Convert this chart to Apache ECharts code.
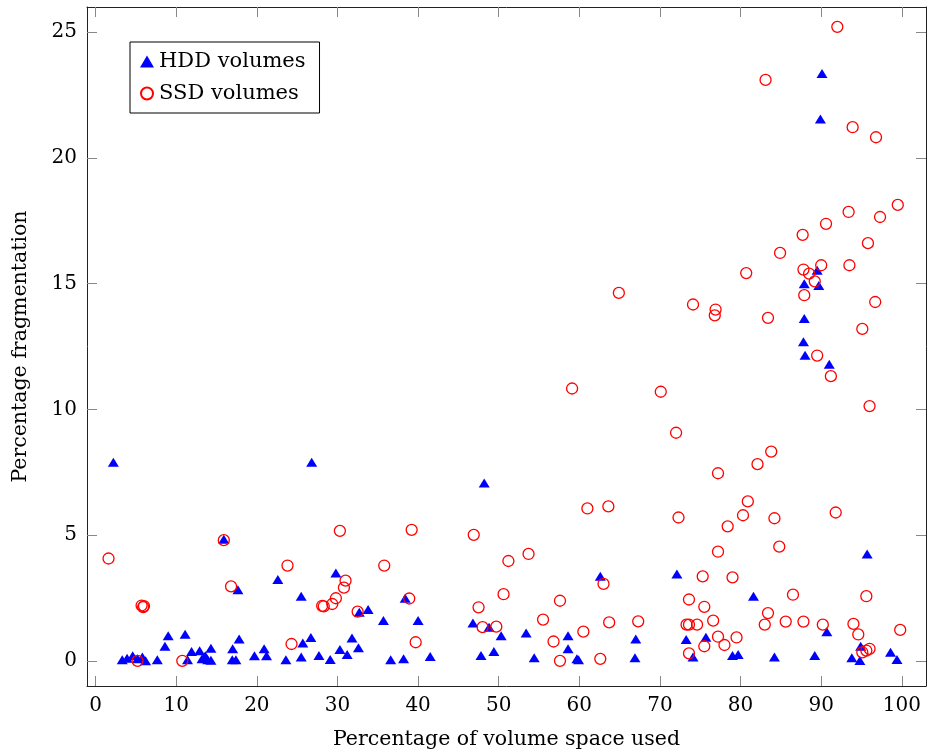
<!DOCTYPE html>
<html>
<head>
<meta charset="utf-8">
<script src="https://cdn.jsdelivr.net/npm/echarts@6/dist/echarts.min.js"></script>
<style>
  html, body { margin: 0; padding: 0; background: #fff; }
  #chart { width: 927px; height: 755px; }
</style>
</head>
<body>
<div id="chart"></div>
<script>
// tick values
var xTicks = [0, 10, 20, 30, 40, 50, 60, 70, 80, 90, 100];
var yTicks = [0, 5, 10, 15, 20, 25];

// HDD volumes: [space used %, fragmentation %]
var hddData = [
  [2.2, 7.9], [3.3, 0.04], [3.9, 0.1], [4.6, 0.2], [5.2, 0.08], [5.8, 0.15],
  [6.2, 0.0], [7.65, 0.04], [8.6, 0.58], [9.0, 1.0], [11.1, 1.06], [11.9, 0.37],
  [11.4, 0.04], [12.9, 0.4], [13.2, 0.08], [13.6, 0.2], [13.9, 0.04], [14.3, 0.5],
  [14.3, 0.02], [17.0, 0.48], [17.8, 0.87], [16.95, 0.04], [17.4, 0.04], [19.7, 0.2],
  [20.9, 0.48], [21.2, 0.2], [23.6, 0.04], [22.6, 3.23], [17.65, 2.83], [15.9, 4.84],
  [25.5, 2.57], [29.8, 3.49], [25.7, 0.71], [26.7, 0.93], [25.5, 0.15], [27.7, 0.21],
  [29.1, 0.05], [30.3, 0.45], [31.2, 0.25], [31.8, 0.91], [32.6, 0.52], [32.7, 1.93],
  [33.8, 2.04], [35.7, 1.6], [36.6, 0.04], [38.2, 0.08], [38.4, 2.49], [40.0, 1.6],
  [41.5, 0.17], [46.8, 1.51], [47.8, 0.21], [49.4, 0.37], [48.8, 1.34], [50.3, 1.0],
  [26.8, 7.9], [48.2, 7.07], [62.6, 3.36], [72.1, 3.45], [53.4, 1.11], [54.4, 0.12],
  [58.6, 1.0], [58.6, 0.48], [59.7, 0.08], [59.9, 0.04], [67.0, 0.87], [66.9, 0.12],
  [73.25, 0.85], [75.7, 0.94], [74.1, 0.15], [81.6, 2.57], [79.0, 0.21], [79.7, 0.25],
  [84.2, 0.15], [89.2, 0.21], [90.7, 1.16], [94.9, 0.58], [93.8, 0.12], [94.8, 0.01],
  [98.6, 0.34], [99.4, 0.05], [95.7, 4.25], [90.1, 23.36], [89.9, 21.55], [89.5, 15.53],
  [87.9, 15.0], [89.7, 14.93], [87.9, 13.61], [87.8, 12.69], [88.0, 12.15], [91.0, 11.79]
];

// SSD volumes: [space used %, fragmentation %]
var ssdData = [
  [1.6, 4.07], [15.9, 4.8], [30.3, 5.17], [39.2, 5.21], [46.9, 5.01], [23.8, 3.79],
  [35.8, 3.79], [51.2, 3.97], [5.7, 2.2], [5.9, 2.14], [6.0, 2.18], [5.2, 0.0],
  [10.75, 0.0], [16.8, 2.96], [24.3, 0.67], [31.0, 3.19], [30.8, 2.91], [29.8, 2.49],
  [29.35, 2.26], [28.1, 2.19], [28.3, 2.17], [32.5, 1.96], [38.9, 2.48], [39.7, 0.74],
  [47.5, 2.13], [48.0, 1.34], [49.7, 1.36], [50.6, 2.65], [53.7, 4.25], [63.0, 3.06],
  [57.6, 2.39], [55.5, 1.64], [60.5, 1.16], [56.8, 0.77], [57.6, 0.0], [62.6, 0.08],
  [63.7, 1.53], [67.3, 1.57], [75.3, 3.36], [73.6, 2.44], [75.5, 2.15], [73.3, 1.44],
  [73.6, 1.44], [74.6, 1.44], [76.6, 1.6], [75.5, 0.58], [73.6, 0.3], [77.2, 0.96],
  [79.0, 3.32], [86.5, 2.63], [95.6, 2.57], [83.4, 1.9], [83.0, 1.44], [85.6, 1.56],
  [87.8, 1.56], [90.2, 1.44], [94.0, 1.47], [99.8, 1.23], [79.5, 0.93], [78.0, 0.63],
  [94.6, 1.05], [95.1, 0.34], [95.6, 0.41], [96.0, 0.48], [96.0, 10.13], [72.0, 9.07],
  [83.8, 8.32], [82.1, 7.82], [77.2, 7.46], [80.9, 6.34], [72.3, 5.7], [80.3, 5.79],
  [84.2, 5.67], [91.8, 5.9], [78.4, 5.35], [84.8, 4.54], [77.2, 4.34], [61.0, 6.06],
  [63.6, 6.14], [64.9, 14.63], [59.1, 10.83], [92.0, 25.21], [83.1, 23.1], [93.9, 21.22],
  [96.8, 20.82], [99.5, 18.13], [93.4, 17.85], [97.3, 17.65], [90.6, 17.38], [87.7, 16.94],
  [95.8, 16.61], [84.9, 16.22], [80.7, 15.42], [90.0, 15.73], [93.5, 15.73], [87.8, 15.56],
  [88.5, 15.4], [89.2, 15.09], [87.9, 14.54], [96.7, 14.27], [74.1, 14.17], [76.9, 13.97],
  [76.8, 13.74], [83.4, 13.64], [95.1, 13.2], [89.5, 12.14], [91.2, 11.32], [70.1, 10.7]
];

var font = 'DejaVu Serif';
var chart = echarts.init(document.getElementById('chart'));

function tickAxis(pos, ticks, min, max, showLabel, name) {
  return {
    type: 'value',
    position: pos,
    min: min,
    max: max,
    name: name || '',
    nameLocation: 'middle',
    nameGap: pos === 'left' ? 56 : 43,
    nameTextStyle: { fontFamily: font, fontSize: 20.5, color: '#000' },
    splitLine: { show: false },
    axisLine: { show: true, onZero: false, lineStyle: { color: '#222', width: 1 } },
    axisTick: { show: true, inside: true, length: 10, customValues: ticks,
      lineStyle: { color: '#888', width: 1 } },
    axisLabel: { show: showLabel, customValues: ticks, margin: 10,
      fontFamily: font, fontSize: 20, color: '#000' }
  };
}

chart.setOption({
  backgroundColor: '#fff',
  animation: false,
  grid: { left: 87, right: 1, top: 7, bottom: 68 },
  legend: {
    orient: 'vertical',
    left: 130,
    top: 42,
    padding: [9, 14, 9, 10],
    itemGap: 11,
    itemWidth: 14,
    itemHeight: 12,
    backgroundColor: '#fff',
    borderColor: '#000',
    borderWidth: 1,
    textStyle: { fontFamily: font, fontSize: 21, color: '#000' },
    data: ['HDD volumes', 'SSD volumes']
  },
  xAxis: [
    tickAxis('bottom', xTicks, -1.07, 103, true, 'Percentage of volume space used'),
    tickAxis('top', xTicks, -1.07, 103, false)
  ],
  yAxis: [
    tickAxis('left', yTicks, -1, 26, true, 'Percentage fragmentation'),
    tickAxis('right', yTicks, -1, 26, false)
  ],
  series: [
    {
      name: 'HDD volumes',
      type: 'scatter',
      symbol: 'triangle',
      symbolSize: [11, 9],
      itemStyle: { color: '#0000ff', opacity: 1 },
      data: hddData
    },
    {
      name: 'SSD volumes',
      type: 'scatter',
      symbol: 'circle',
      symbolSize: 11,
      itemStyle: { color: 'rgba(255,255,255,0)', borderColor: '#ff0000', borderWidth: 1.3, opacity: 1 },
      data: ssdData
    }
  ]
});
</script>
</body>
</html>
